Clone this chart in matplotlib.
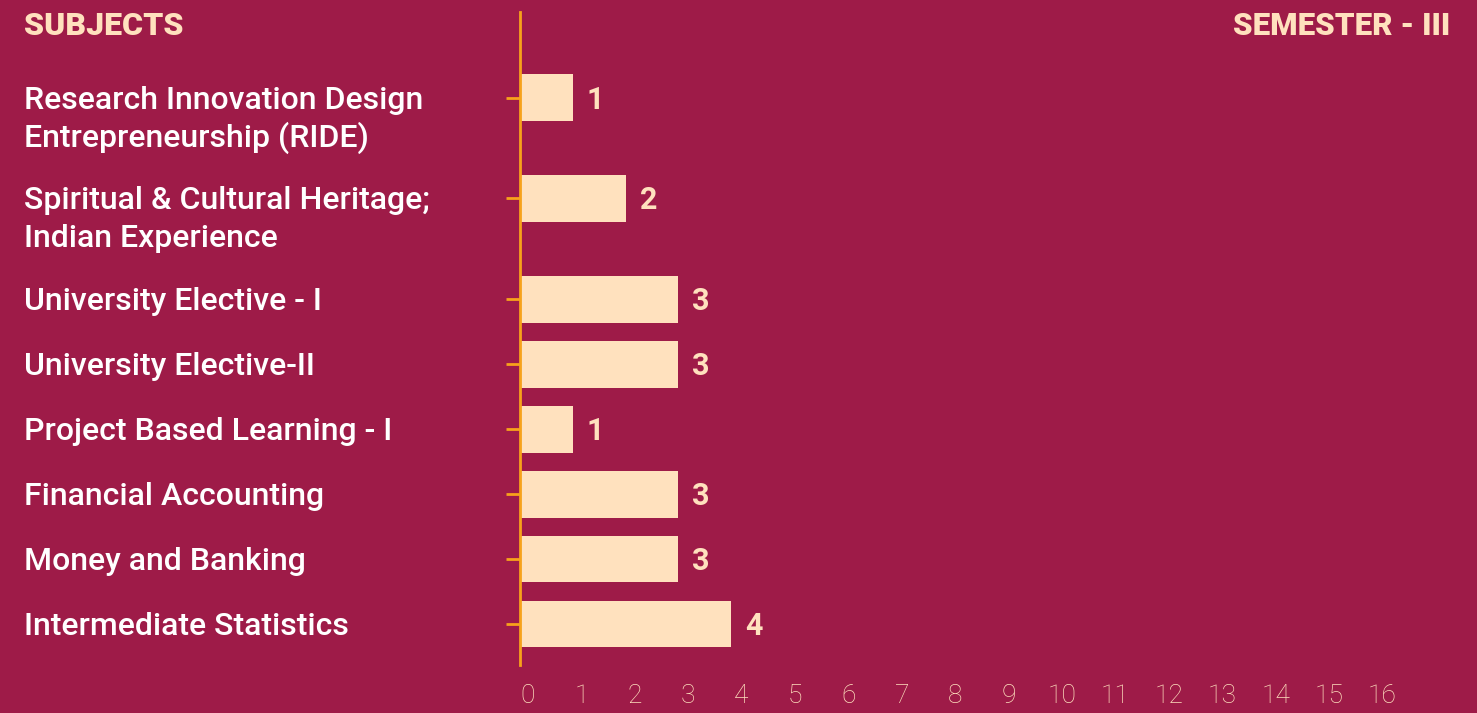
import numpy as np
import matplotlib.pyplot as plt
import matplotlib.transforms as mtrans

subjects = [
    "Research Innovation Design\nEntrepreneurship (RIDE)",
    "Spiritual & Cultural Heritage;\nIndian Experience",
    "University Elective - I",
    "University Elective-II",
    "Project Based Learning - I",
    "Financial Accounting",
    "Money and Banking",
    "Intermediate Statistics",
]
credits = [1, 2, 3, 3, 1, 3, 3, 4]
x_ticks = list(range(0, 17))

bg = "#9E1B48"
peach = "#FFE1BE"
orange = "#F7A21B"

# rows with two-line labels take a bit more room
n_lines = [s.count("\n") + 1 for s in subjects]
ypos = [0.0]
for k in range(1, len(subjects)):
    ypos.append(ypos[-1] + 1 + 0.55 * (n_lines[k - 1] - 1))
ypos = np.array(ypos)

fig = plt.figure(figsize=(14.77, 7.13), dpi=100, facecolor=bg)
ax = fig.add_axes([520 / 1477, 1 - 665 / 713, 900 / 1477, 653 / 713])
ax.set_facecolor(bg)

ax.barh(ypos, credits, height=0.72, color=peach, align="center")
ax.set_xlim(0, 900 / 52.8)
ax.set_ylim(ypos[-1] + 0.63, -1.32)

for sp in ["top", "right", "bottom"]:
    ax.spines[sp].set_visible(False)
ax.spines["left"].set_color(orange)
ax.spines["left"].set_linewidth(2)

ax.set_yticks(ypos)
ax.set_yticklabels([])
ax.tick_params(axis="y", length=10, width=2, color=orange)

ax.set_xticks(x_ticks)
ax.tick_params(axis="x", length=0, pad=14, labelsize=19, labelcolor=peach)
ax.set_xticklabels([str(t) for t in x_ticks], fontfamily="Roboto", fontweight="light")
for t, lab in zip(x_ticks, ax.get_xticklabels()):
    # tick labels sit slightly right of their ticks, spreading a bit further out
    shift = mtrans.ScaledTranslation((8 + 0.6 * t) / 100, 0, fig.dpi_scale_trans)
    lab.set_transform(lab.get_transform() + shift)

# value labels
for y, v in zip(ypos, credits):
    ax.annotate(str(v), (v, y), xytext=(14, -11), textcoords="offset pixels",
                ha="left", va="baseline", color=peach, fontsize=22,
                fontfamily="Roboto", fontweight="bold")

# subject labels, first line aligned with the bar centre
trans = mtrans.blended_transform_factory(fig.transFigure, ax.transData)
for y, s in zip(ypos, subjects):
    for j, line in enumerate(s.split("\n")):
        ax.annotate(line, (24 / 1477, y), xycoords=trans,
                    xytext=(0, -11 - 38 * j), textcoords="offset pixels",
                    ha="left", va="baseline", color="white", fontsize=23,
                    fontfamily="Roboto", fontweight="medium",
                    annotation_clip=False)

fig.text(24 / 1477, 1 - 35 / 713, "SUBJECTS", ha="left", va="baseline",
         color=peach, fontsize=23, fontfamily="Roboto", fontweight="heavy")
fig.text(1450 / 1477, 1 - 35 / 713, "SEMESTER - III", ha="right", va="baseline",
         color=peach, fontsize=22.5, fontfamily="Roboto", fontweight="heavy")

fig.savefig("out.png", dpi=100, facecolor=bg)
